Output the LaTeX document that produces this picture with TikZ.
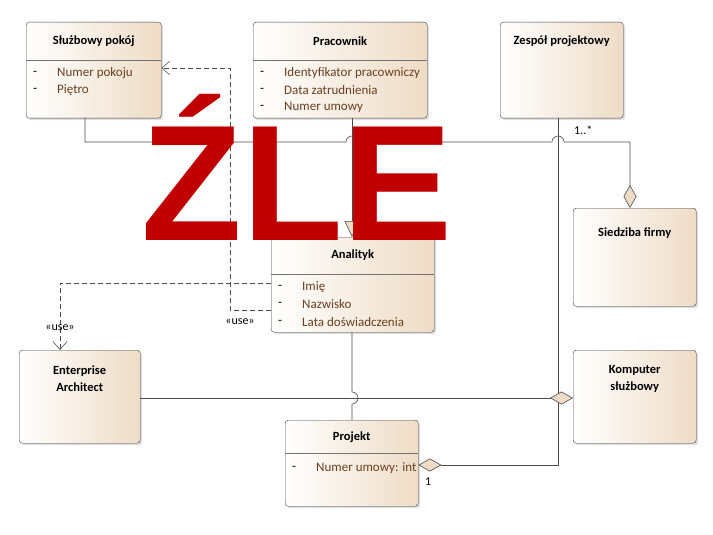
\documentclass[tikz,border=0pt]{standalone}
\usepackage{fontspec}
\setmainfont{Carlito}
\newfontfamily\bigfont{Liberation Sans}
\usetikzlibrary{positioning,arrows.meta,shadows}
\definecolor{boxbeige}{HTML}{EEDCC6}
\definecolor{attrtext}{HTML}{6B3E1E}
\definecolor{bad}{HTML}{C00000}
\tikzset{
  cls/.style={draw=black!75, rounded corners=3pt, left color=white, right color=boxbeige,
    drop shadow={shadow xshift=2pt, shadow yshift=-2pt, fill=black!25}, anchor=north west, inner sep=0pt},
  title/.style={font=\bfseries\fontsize{12.5}{17}\selectfont, align=center},
  attr/.style={font=\fontsize{13}{15}\selectfont, text=attrtext, anchor=west, inner sep=0pt},
  vis/.style={font=\fontsize{13}{15}\selectfont, anchor=west, inner sep=0pt},
  conn/.style={draw=black!70, line width=0.6pt},
  dep/.style={conn, dash pattern=on 5pt off 3pt, -{Straight Barb[length=8pt,width=14pt]}},
  agg/.style={conn, -{Diamond[length=23pt,width=13pt,fill=boxbeige]}},
  gen/.style={conn, -{Triangle[open,length=16pt,width=15pt,fill=boxbeige]}},
  lab/.style={font=\fontsize{12}{14}\selectfont, inner sep=1pt}
}
\begin{document}
\begin{tikzpicture}[x=1pt,y=1pt]
\useasboundingbox (0,0) rectangle (713,-535);
% classes
\node[cls, minimum width=135, minimum height=96] (pokoj) at (26,-22) {};
\node[cls, minimum width=174, minimum height=96] (pracownik) at (253,-22) {};
\node[cls, minimum width=123, minimum height=96] (zespol) at (500,-22) {};
\node[cls, minimum width=123, minimum height=98] (siedziba) at (573,-208) {};
\node[cls, minimum width=163, minimum height=95] (analityk) at (271,-237) {};
\node[cls, minimum width=121, minimum height=93] (ea) at (19,-350) {};
\node[cls, minimum width=123, minimum height=93] (komputer) at (573,-350) {};
\node[cls, minimum width=133, minimum height=86] (projekt) at (285,-420) {};
% compartments
\foreach \c/\h in {pokoj/38,pracownik/38,analityk/37,projekt/33}
  \draw[black!55] ([yshift=-\h]\c.north west) -- ([yshift=-\h]\c.north east);
% titles
\node[title] at ([yshift=-19]pokoj.north) {Służbowy pokój};
\node[title] at ([yshift=-19]pracownik.north) {Pracownik};
\node[title] at ([yshift=-19]zespol.north) {Zespół projektowy};
\node[title] at ([yshift=-25]siedziba.north) {Siedziba firmy};
\node[title] at ([yshift=-18]analityk.north) {Analityk};
\node[title] at ([yshift=-29]ea.north) {Enterprise\\Architect};
\node[title] at ([yshift=-29]komputer.north) {Komputer\\służbowy};
\node[title] at ([yshift=-17]projekt.north) {Projekt};
% attributes
\foreach \c/\y/\t in {pokoj/51/Numer pokoju, pokoj/68/Piętro,
    pracownik/51/Identyfikator pracowniczy, pracownik/68/Data zatrudnienia, pracownik/85/Numer umowy,
    analityk/50/Imię, analityk/67/Nazwisko, analityk/85/Lata doświadczenia,
    projekt/48/Numer umowy: int} {
  \node[vis] at ([xshift=7,yshift=-\y]\c.north west) {-};
  \node[attr] at ([xshift=31,yshift=-\y]\c.north west) {\t};
}
% connectors
\coordinate (a1) at (85,-142);
\draw[agg] (85,-118) -- (a1) -- (346,-142) arc (180:0:6) -- (552,-142) arc (180:0:6) -- (630,-142) -- (siedziba.north -| 630,0);
\draw[agg] (zespol.south -| 558,0) -- (558,-465) -- (projekt.east |- 0,-465);
\draw[gen] (pracownik.south -| 352,0) -- (analityk.north -| 352,0);
\draw[conn] (analityk.south -| 352,0) -- (352,-392) arc (90:-90:6) -- (projekt.north -| 352,0);
\draw[agg] (ea.east |- 0,-398) -- (komputer.west |- 0,-398);
\draw[dep] (analityk.west |- 0,-283) -- (60,-283) -- (ea.north -| 60,0);
\draw[dep] (analityk.west |- 0,-310) -- (230,-310) -- (230,-68) -- (pokoj.east |- 0,-68);
% labels
\node[lab] at (60,-328) {«use»};
\node[lab] at (240,-322) {«use»};
\node[lab, anchor=west] at (573,-130) {1..*};
\node[lab, anchor=west] at (424,-482) {1};
% stamp
\node[anchor=base, text=bad, inner sep=0pt, font=\bigfont\bfseries\fontsize{165}{165}\selectfont] (zle) at (297,-240) {ŹLE};
\end{tikzpicture}
\end{document}
